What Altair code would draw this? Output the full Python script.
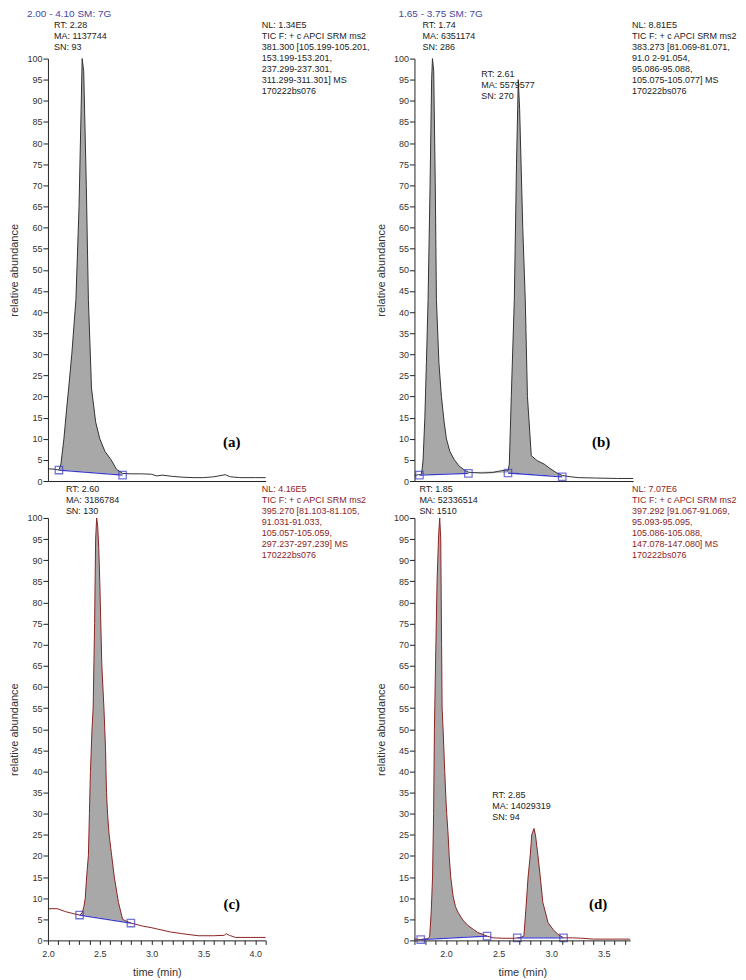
import altair as alt
import pandas as pd

# ---------------- data ----------------
# panel (a)
a_t = [2.00, 2.06, 2.106, 2.125, 2.154, 2.18, 2.20, 2.23, 2.27, 2.30, 2.32, 2.33, 2.345, 2.37, 2.39,
       2.42, 2.46, 2.50, 2.55, 2.61, 2.66, 2.72, 2.80, 2.90, 3.00, 3.05, 3.10, 3.20, 3.30, 3.40,
       3.50, 3.60, 3.71, 3.76, 3.85, 4.00, 4.10]
a_v = [2.9, 2.8, 2.6, 4, 10, 17, 22, 30, 43, 65, 88, 100, 97, 70, 43,
       22, 14, 10, 7, 5, 2.8, 1.8, 1.7, 1.7, 1.6, 1.2, 1.4, 1.1, 0.9, 0.8,
       0.8, 1.0, 1.5, 1.0, 0.8, 0.8, 0.8]
a_sq_t = [2.106, 2.72]
a_sq_v = [2.6, 1.4]
a_sq_pk = [1, 1]

# panel (b)
b_t = [1.65, 1.69, 1.698, 1.715, 1.725, 1.733, 1.75, 1.765, 1.781, 1.80, 1.815, 1.823, 1.835, 1.85,
       1.861, 1.885, 1.909, 1.935, 1.957, 1.99, 2.034, 2.08, 2.13, 2.168, 2.20, 2.30, 2.40, 2.455,
       2.50, 2.548, 2.561, 2.58, 2.609, 2.63, 2.647, 2.66, 2.69, 2.714, 2.735, 2.772, 2.83, 2.896,
       2.95, 3.011, 3.069, 3.15, 3.222, 3.40, 3.60, 3.75]
b_v = [1.3, 1.5, 1.5, 1.5, 3, 5, 15, 28, 43, 70, 95, 100, 97, 70,
       43, 28, 20, 14, 10, 7, 5, 3.5, 2.6, 2.1, 2.0, 1.9, 2.0, 2.3,
       2.5, 2.4, 4, 20, 43, 75, 95, 88, 60, 43, 20, 6, 4.8, 4,
       3, 2, 1.3, 1.0, 0.8, 0.7, 0.6, 0.6]
b_sq_t = [1.698, 2.168, 2.548, 3.069]
b_sq_v = [1.4, 1.8, 1.9, 1.0]
b_sq_pk = [1, 1, 2, 2]

# panel (c)
c_t = [2.00, 2.09, 2.17, 2.25, 2.305, 2.33, 2.347, 2.36, 2.373, 2.39, 2.40, 2.41, 2.425, 2.436,
       2.45, 2.46, 2.47, 2.48, 2.49, 2.50, 2.52, 2.54, 2.556, 2.56, 2.565, 2.575, 2.59, 2.615,
       2.64, 2.68, 2.72, 2.76, 2.80, 2.85, 2.91, 3.00, 3.07, 3.18, 3.29, 3.45, 3.60, 3.70, 3.72,
       3.75, 3.81, 3.95, 4.10]
c_v = [7.5, 7.5, 6.8, 6.3, 6.0, 6.5, 8, 10, 15, 20, 30, 40, 50, 55,
       75, 95, 100, 98, 93, 85, 65, 55, 45, 40, 35, 30, 25, 20,
       15, 9, 5, 4.5, 4.1, 3.8, 3.4, 3.0, 2.6, 2.0, 1.6, 1.1, 1.1, 1.2, 1.6,
       1.2, 0.7, 0.7, 0.7]
c_sq_t = [2.305, 2.80]
c_sq_v = [6.0, 4.1]
c_sq_pk = [1, 1]

# panel (d)
d_t = [1.70, 1.76, 1.83, 1.845, 1.86, 1.872, 1.882, 1.89, 1.90, 1.915, 1.93, 1.94, 1.95, 1.958,
       1.963, 1.972, 1.988, 2.00, 2.007, 2.02, 2.03, 2.045, 2.067, 2.09, 2.115, 2.16, 2.21, 2.26,
       2.30, 2.35, 2.39, 2.45, 2.55, 2.65, 2.677, 2.70, 2.74, 2.758, 2.78, 2.80, 2.815, 2.836,
       2.85, 2.874, 2.896, 2.92, 2.97, 3.02, 3.06, 3.117, 3.20, 3.30, 3.40, 3.75]
d_v = [0.3, 0.2, 0.4, 1, 7, 15, 30, 50, 65, 85, 96, 100, 95, 70,
       55, 50, 40, 33, 30, 25, 20, 15, 10.5, 8, 6.6, 4.8, 3.5, 2.6,
       1.9, 1.4, 1.0, 0.6, 0.5, 0.5, 0.6, 0.6, 1, 7, 15, 20, 25, 26.5,
       25, 20, 15, 9, 4.2, 2.5, 1.5, 0.6, 0.6, 0.5, 0.3, 0.3]
d_sq_t = [1.76, 2.39, 2.677, 3.117]
d_sq_v = [0.2, 1.0, 0.6, 0.6]
d_sq_pk = [1, 1, 2, 2]

# tick values of the time axes
c_ticks = [2.0, 2.1, 2.2, 2.3, 2.4, 2.5, 2.6, 2.7, 2.8, 2.9, 3.0, 3.1, 3.2, 3.3, 3.4, 3.5,
           3.6, 3.7, 3.8, 3.9, 4.0, 4.1]
d_ticks = [1.7, 1.8, 1.9, 2.0, 2.1, 2.2, 2.3, 2.4, 2.5, 2.6, 2.7, 2.8, 2.9, 3.0, 3.1, 3.2,
           3.3, 3.4, 3.5, 3.6, 3.7]
y_ticks = [0, 5, 10, 15, 20, 25, 30, 35, 40, 45, 50, 55, 60, 65, 70, 75, 80, 85, 90, 95, 100]

# texts
a_header = "2.00 - 4.10   SM: 7G"
a_peak = "RT: 2.28\nMA: 1137744\nSN: 93"
a_info = ("NL: 1.34E5\nTIC F: + c APCI SRM ms2\n381.300 [105.199-105.201,\n153.199-153.201,\n"
          "237.299-237.301,\n311.299-311.301]  MS\n170222bs076")
b_header = "1.65 - 3.75   SM: 7G"
b_peak1 = "RT: 1.74\nMA: 6351174\nSN: 286"
b_peak2 = "RT: 2.61\nMA: 5579577\nSN: 270"
b_info = ("NL: 8.81E5\nTIC F: + c APCI SRM ms2\n383.273 [81.069-81.071,\n91.0  2-91.054,\n"
          "95.086-95.088,\n105.075-105.077]  MS\n170222bs076")
c_peak = "RT: 2.60\nMA: 3186784\nSN: 130"
c_info = ("NL: 4.16E5\nTIC F: + c APCI SRM ms2\n395.270 [81.103-81.105,\n91.031-91.033,\n"
          "105.057-105.059,\n297.237-297.239]  MS\n170222bs076")
d_peak1 = "RT: 1.85\nMA: 52336514\nSN: 1510"
d_peak2 = "RT: 2.85\nMA: 14029319\nSN: 94"
d_info = ("NL: 7.07E6\nTIC F: + c APCI SRM ms2\n397.292 [91.067-91.069,\n95.093-95.095,\n"
          "105.086-105.088,\n147.078-147.080]  MS\n170222bs076")

# ---------------- styling ----------------
FONT = "Liberation Sans"
FILL = "#a8a8a8"
BLUE = "#3b3bc8"
HEAD_BLUE = "#4646a0"
DARK = "#333333"
RED = "#8b2424"
PH = 423  # plot height


def panel(t, v, sq_t, sq_v, sq_pk, domain, width, line_color, texts, letter, letter_pos,
          bottom, ticks=None):
    df = pd.DataFrame({"t": t, "v": v})
    sq = pd.DataFrame({"t": sq_t, "v": sq_v, "pk": sq_pk})
    pieces = []
    for pk in sorted(set(sq_pk)):
        ts = [tt for tt, p in zip(sq_t, sq_pk) if p == pk]
        sub = df[(df.t >= min(ts) - 1e-9) & (df.t <= max(ts) + 1e-9)].copy()
        sub["pk"] = pk
        pieces.append(sub)
    fill = pd.concat(pieces)

    if bottom:
        xaxis = alt.Axis(values=ticks, tickSize=4, tickColor="#222", domainColor="#222",
                         labelExpr="(round(datum.value*10) % 5 == 0) ? format(datum.value, '.1f') : ''",
                         labelFont=FONT, labelFontSize=9, labelColor=DARK, labelPadding=5,
                         labelOverlap=False, labelFlush=False,
                         title="time (min)", titleFont=FONT, titleFontSize=11,
                         titleFontWeight="normal", titleColor=DARK, titlePadding=8,
                         grid=False, zindex=1)
    else:
        xaxis = alt.Axis(ticks=False, labels=False, title=None, domainColor="#222",
                         grid=False, zindex=1)
    yaxis = alt.Axis(values=y_ticks, tickSize=5, tickColor="#222", domainColor="#222",
                     labelFont=FONT, labelFontSize=9, labelColor=DARK, labelPadding=1,
                     labelOverlap=False,
                     title="relative abundance", titleFont=FONT, titleFontSize=11,
                     titleFontWeight="normal", titleColor=DARK, titlePadding=7,
                     grid=False, zindex=1)
    X = alt.X("t:Q", scale=alt.Scale(domain=domain, nice=False, zero=False), axis=xaxis)
    Y = alt.Y("v:Q", scale=alt.Scale(domain=[0, 100], nice=False), axis=yaxis)

    area = alt.Chart(fill).mark_area(color=FILL, opacity=1).encode(x=X, y=Y, detail="pk:N")
    mask = alt.Chart(sq).mark_area(fill="white", stroke="white", strokeWidth=1.2,
                                   opacity=1).encode(x=X, y=Y, detail="pk:N")
    line = alt.Chart(df).mark_line(color=line_color, strokeWidth=1).encode(x=X, y=Y)
    base = alt.Chart(sq).mark_line(color=BLUE, strokeWidth=1.3).encode(x=X, y=Y, detail="pk:N")
    pts = alt.Chart(sq).mark_point(shape="square", filled=False, size=55, strokeWidth=1.3,
                                   color=BLUE).encode(x=X, y=Y)
    layers = [area, mask, line, base, pts]
    for (tx, ty, txt, col, bl, fs) in texts:
        tdf = pd.DataFrame({"t": [tx], "v": [ty], "txt": [txt]})
        layers.append(alt.Chart(tdf).mark_text(align="left", baseline=bl, font=FONT, fontSize=fs,
                                               lineBreak="\n", lineHeight=11, color=col)
                      .encode(x=X, y=Y, text="txt:N"))
    ldf = pd.DataFrame({"t": [letter_pos[0]], "v": [letter_pos[1]], "txt": [letter]})
    layers.append(alt.Chart(ldf).mark_text(align="center", baseline="middle", font="Liberation Serif",
                                           fontSize=15, fontWeight="bold", color="black")
                  .encode(x=X, y=Y, text="txt:N"))
    return alt.layer(*layers).properties(width=width, height=PH)


pa = panel(a_t, a_v, a_sq_t, a_sq_v, a_sq_pk, [2.0, 4.1], 218, DARK,
           [(1.798, 110.6, a_header, HEAD_BLUE, "middle", 10),
            (2.058, 108.9, a_peak, "#222222", "top", 9),
            (4.062, 108.9, a_info, "#222222", "top", 9)],
           "(a)", (3.773, 9.2), False)
pb = panel(b_t, b_v, b_sq_t, b_sq_v, b_sq_pk, [1.65, 3.75], 219, DARK,
           [(1.497, 110.6, b_header, HEAD_BLUE, "middle", 10),
            (1.727, 108.9, b_peak1, "#222222", "top", 9),
            (2.292, 97.3, b_peak2, "#222222", "top", 9),
            (3.74, 108.9, b_info, "#222222", "top", 9)],
           "(b)", (3.443, 9.2), False)
pc = panel(c_t, c_v, c_sq_t, c_sq_v, c_sq_pk, [2.0, 4.1], 218, RED,
           [(2.173, 107.7, c_peak, "#222222", "top", 9),
            (4.062, 107.7, c_info, RED, "top", 9)],
           "(c)", (3.773, 8.5), True, c_ticks)
pd_ = panel(d_t, d_v, d_sq_t, d_sq_v, d_sq_pk, [1.70, 3.75], 216, RED,
            [(1.747, 107.7, d_peak1, "#222222", "top", 9),
             (2.44, 35.3, d_peak2, "#222222", "top", 9),
             (3.768, 107.7, d_info, RED, "top", 9)],
            "(d)", (3.446, 8.5), True, d_ticks)

chart = alt.concat(pa, pb, pc, pd_, columns=2, spacing={"row": 37, "column": 149},
                   bounds="flush").properties(
    padding={"left": 0, "top": 0, "right": 0, "bottom": 0}, background="white"
).configure_view(strokeWidth=0, stroke="transparent")

chart.save("out.html", embed_options={"renderer": "svg", "actions": False})
